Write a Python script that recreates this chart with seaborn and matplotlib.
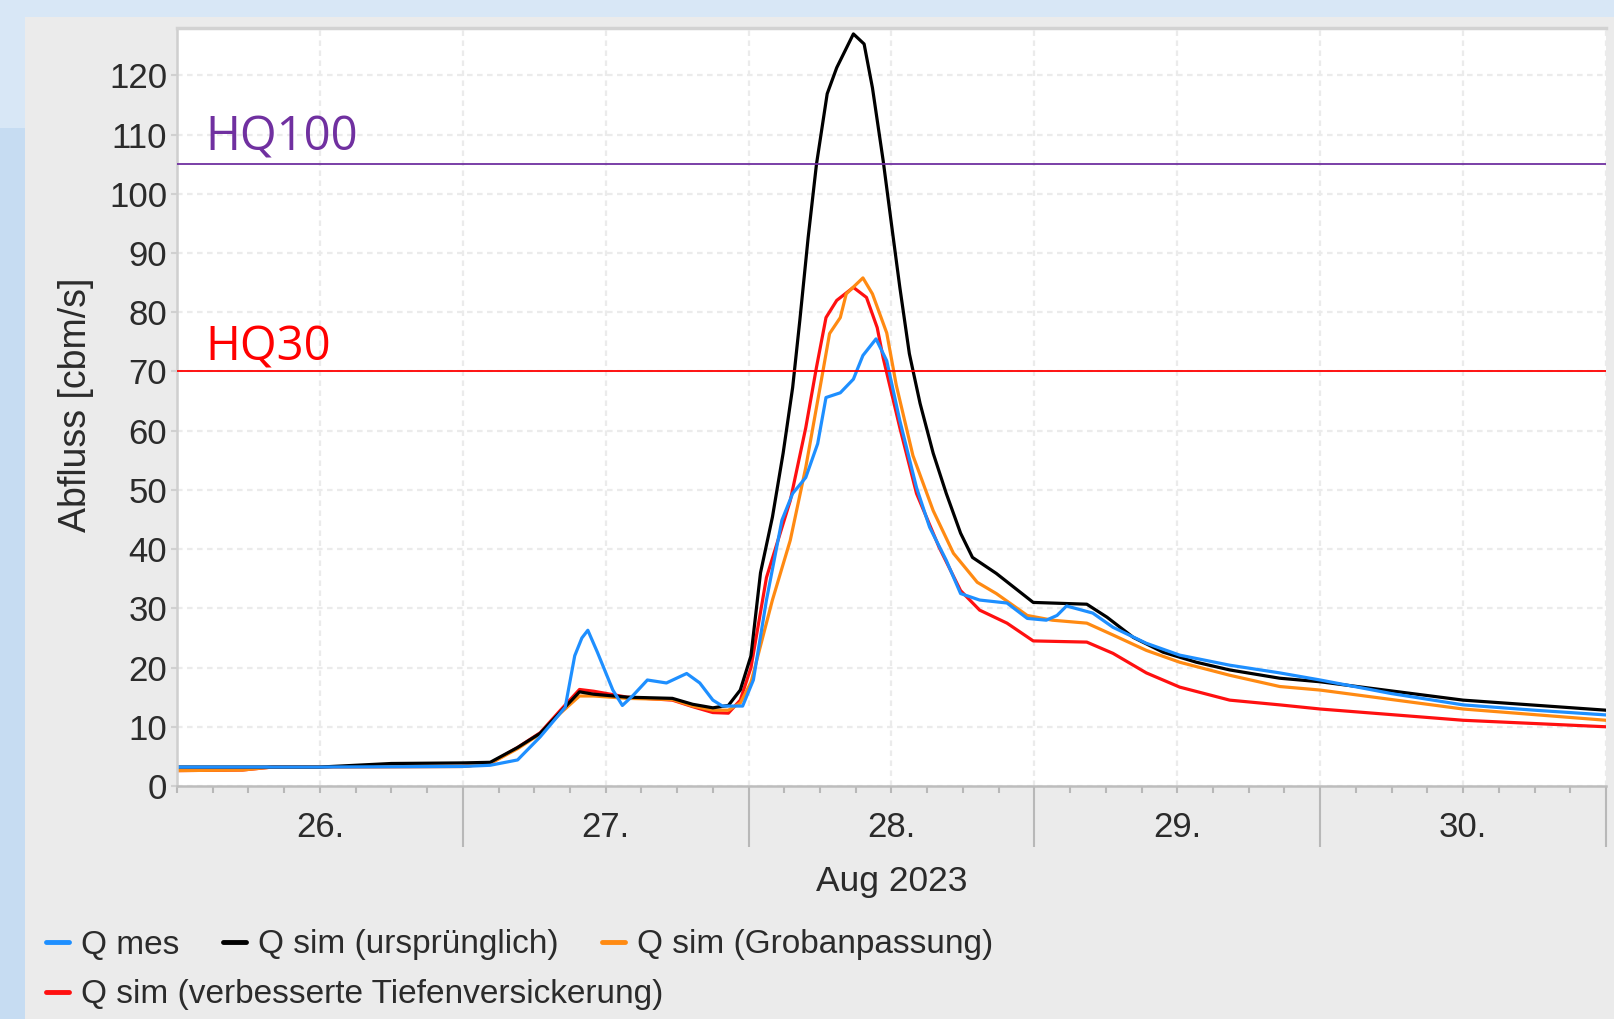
import numpy as np
import pandas as pd
import matplotlib
matplotlib.use("Agg")
import matplotlib.pyplot as plt
from matplotlib.lines import Line2D
from matplotlib.patches import Rectangle
import matplotlib.transforms as mtransforms
import seaborn as sns

# ---------------- data ----------------
day_labels = ["26.", "27.", "28.", "29.", "30."]
month_label = "Aug 2023"
y_label = "Abfluss [cbm/s]"
y_ticks = [0, 10, 20, 30, 40, 50, 60, 70, 80, 90, 100, 110, 120]
hq_names = ["HQ100", "HQ30"]
hq_values = [105, 70]

series_names = ["Q mes", "Q sim (ursprünglich)", "Q sim (Grobanpassung)",
                "Q sim (verbesserte Tiefenversickerung)"]

# hours since 26 Aug 2023 00:00
t_mes = [0, 12, 24, 26.3, 28.6, 30.5, 32.6, 33.4, 34.0, 34.5, 35.3, 36.6, 37.4, 38.3, 39.5,
         41.1, 42.8, 43.9, 45.0, 45.8, 47.5, 48.4, 49.5, 50.8, 51.7, 52.8, 53.8, 54.5,
         55.7, 56.8, 57.6, 58.7, 59.6, 60.7, 62.1, 63.2, 64.6, 65.8, 67.4, 69.7, 71.4,
         73.0, 73.9, 74.7, 76.9, 78.6, 81.4, 84.2, 88.4, 92.6, 96, 102, 108, 114, 120]
q_mes = [3.2, 3.2, 3.3, 3.5, 4.4, 8.3, 13.3, 22.0, 25.0, 26.3, 22.6, 16.2, 13.6, 15.3, 17.9,
         17.4, 19.0, 17.4, 14.5, 13.5, 13.5, 17.9, 31.4, 44.9, 49.4, 52.1, 57.8, 65.6,
         66.4, 68.7, 72.7, 75.5, 71.8, 61.7, 50.4, 43.7, 38.1, 32.5, 31.4, 30.9, 28.3,
         28.0, 28.8, 30.4, 29.2, 26.8, 24.1, 22.1, 20.4, 19.1, 17.9, 15.6, 13.7, 12.8, 12.0]

t_orig = [0, 12, 18, 24, 26.3, 28.6, 30.5, 32.2, 33.8, 35.0, 37.8, 41.6, 43.3, 45.0,
          46.3, 47.3, 48.2, 49.0, 50.0, 50.9, 51.7, 52.3, 53.0, 53.7, 54.6, 55.4, 56.8,
          57.7, 58.4, 59.3, 60.1, 60.7, 61.5, 62.4, 63.5, 64.6, 65.8, 66.8, 68.8, 71.9,
          76.4, 78.1, 80.3, 82.8, 85.6, 88.4, 92.6, 96, 108, 120]
q_orig = [3.2, 3.2, 3.8, 3.9, 4.0, 6.5, 8.9, 12.5, 15.9, 15.5, 15.0, 14.8, 13.8, 13.2,
          13.6, 16.2, 22.0, 36.0, 45.4, 56.2, 67.3, 78.6, 92.6, 105.0, 116.9, 121.3, 127.0,
          125.3, 117.9, 105.6, 93.3, 84.2, 73.0, 64.6, 56.2, 49.4, 42.7, 38.6, 35.9, 31.0,
          30.7, 28.5, 25.1, 22.6, 20.9, 19.6, 18.2, 17.6, 14.5, 12.8]

t_grob = [0, 5.5, 8, 24, 26.3, 28.6, 30.5, 32.2, 33.8, 35.0, 37.8, 41.6, 43.3, 45.0,
          46.3, 47.3, 48.2, 50.0, 51.5, 52.8, 54.0, 54.8, 55.7, 56.2, 57.6, 58.4, 59.6,
          60.4, 61.8, 63.5, 65.2, 67.2, 68.8, 71.4, 73.5, 76.4, 78.6, 81.4, 84.2, 88.4,
          92.6, 96, 108, 120]
q_grob = [2.6, 2.7, 3.2, 3.3, 3.8, 6.3, 8.8, 12.3, 15.2, 15.2, 14.8, 14.6, 13.5, 12.8,
          12.8, 14.0, 17.5, 31.4, 41.5, 53.8, 67.3, 76.4, 79.1, 83.1, 85.8, 83.1, 76.5,
          67.7, 55.8, 46.5, 39.3, 34.4, 32.5, 28.8, 28.0, 27.5, 25.5, 22.9, 20.9, 18.7,
          16.8, 16.2, 13.0, 11.1]

t_tief = [0, 5.5, 8, 24, 26.3, 28.6, 30.5, 32.2, 33.8, 35.0, 37.8, 41.6, 43.3, 45.0,
          46.3, 47.3, 48.2, 49.5, 51.5, 52.8, 53.7, 54.5, 55.4, 56.8, 57.9, 58.8, 59.3,
          60.7, 62.1, 64.0, 65.8, 67.4, 69.7, 71.9, 76.4, 78.6, 81.4, 84.2, 88.4, 92.6,
          96, 108, 120]
q_tief = [2.6, 2.7, 3.2, 3.3, 3.8, 6.5, 9.0, 12.8, 16.3, 16.0, 15.0, 14.5, 13.4, 12.4,
          12.3, 14.5, 20.0, 35.2, 48.2, 60.5, 70.7, 79.1, 82.0, 84.2, 82.5, 77.4, 72.3,
          60.5, 49.4, 40.3, 33.0, 29.7, 27.5, 24.5, 24.3, 22.4, 19.1, 16.7, 14.5, 13.7,
          13.0, 11.1, 10.0]

# ---------------- styling ----------------
colors = {series_names[0]: "#1e8fff", series_names[1]: "#000000",
          series_names[2]: "#ff8a12", series_names[3]: "#ff1010"}
hq_colors = ["#7030a0", "#ff0000"]
draw_order = [series_names[3], series_names[2], series_names[1], series_names[0]]
text_col = "#2b2b2b"

sns.set_theme(style="white")
plt.rcParams['font.family'] = ['Liberation Sans', 'DejaVu Sans']

W, H = 1615, 1019
fig = plt.figure(figsize=(W / 100, H / 100), dpi=100)
fig.patch.set_facecolor("#d8e7f6")
fig.patches.append(Rectangle((0, 0), 25 / W, 1 - 128 / H, transform=fig.transFigure,
                             facecolor="#c6dcf2", edgecolor="none", zorder=-3))
fig.patches.append(Rectangle((25 / W, 0), 1 - 25 / W, 1 - 17 / H, transform=fig.transFigure,
                             facecolor="#ebebeb", edgecolor="none", zorder=-2))

ax = fig.add_axes([177 / W, 1 - 786 / H, (1606 - 177) / W, (786 - 28) / H])
ax.set_facecolor("white")

frames = []
for name, t, q in zip(series_names, [t_mes, t_orig, t_grob, t_tief],
                      [q_mes, q_orig, q_grob, q_tief]):
    frames.append(pd.DataFrame({"t": t, "q": q, "serie": name}))
df = pd.concat(frames, ignore_index=True)

sns.lineplot(data=df, x="t", y="q", hue="serie", hue_order=draw_order, palette=colors,
             linewidth=2.3, estimator=None, legend=False, ax=ax)

# threshold lines
tr = mtransforms.blended_transform_factory(ax.transAxes, ax.transData)
for name, val, col, ty in zip(hq_names, hq_values, hq_colors, [107.3, 71.9]):
    ax.axhline(val, color=col, lw=1.3, zorder=5)
    ax.text((205 - 177) / (1606 - 177), ty, name, transform=tr, color=col,
            fontsize=34, family=["Open Sans", "DejaVu Sans"], va="baseline", ha="left")

ax.set_xlim(0, 120)
ax.set_ylim(0, 128)

# x ticks: every 12 h major, every 3 h minor
major_pos = list(range(12, 121, 12))
ax.set_xticks(major_pos)
ax.set_xticklabels([day_labels[(p - 12) // 24] if p % 24 == 12 else "" for p in major_pos])
ax.set_xticks(list(range(0, 121, 3)), minor=True)
ax.tick_params(axis="x", which="both", direction="out", bottom=True, length=5,
               width=1.5, color="#b8b8b8", pad=13, labelsize=25, labelcolor=text_col)
for tick, p in zip(ax.xaxis.get_major_ticks(), major_pos):
    if p % 24 == 0:
        tick.tick1line.set_markersize(44)

ax.set_yticks(y_ticks)
ax.tick_params(axis="y", which="major", direction="out", left=True, length=4,
               width=1.5, color="#d0d0d0", pad=3, labelsize=25, labelcolor=text_col)

ax.grid(True, which="major", axis="both", color="#ebebeb", linestyle=(0, (2.5, 2)),
        linewidth=1.6)
ax.set_axisbelow(True)

ax.spines["right"].set_visible(False)
ax.spines["top"].set_color("#d2d2d2")
ax.spines["top"].set_linewidth(2.5)
ax.spines["left"].set_color("#cfcfcf")
ax.spines["left"].set_linewidth(1.8)
ax.spines["bottom"].set_color("#bdbdbd")
ax.spines["bottom"].set_linewidth(1.8)

ax.set_xlabel(month_label, fontsize=25.5, color=text_col)
ax.xaxis.set_label_coords(0.5, (786 - 881) / (786 - 28))
ax.xaxis.label.set_va("center")
ax.set_ylabel(y_label, fontsize=27, color=text_col)
ax.yaxis.set_label_coords((76 - 177) / (1606 - 177), (786 - 405) / (786 - 28))
ax.yaxis.label.set_va("center")

# legend (two rows, as in the original)
handles = [Line2D([0], [0], color=colors[n], lw=3.5) for n in series_names]
common = dict(frameon=False, loc="center left", borderpad=0, borderaxespad=0,
              handlelength=0.7, handletextpad=0.35, columnspacing=1.3, fontsize=24,
              labelcolor=text_col)
fig.legend(handles[:3], series_names[:3], ncol=3,
           bbox_to_anchor=(46 / W, 1 - 945 / H), **common)
fig.legend(handles[3:], series_names[3:], ncol=1,
           bbox_to_anchor=(46 / W, 1 - 995 / H), **common)

fig.savefig("out.png", dpi=100, facecolor=fig.get_facecolor())
